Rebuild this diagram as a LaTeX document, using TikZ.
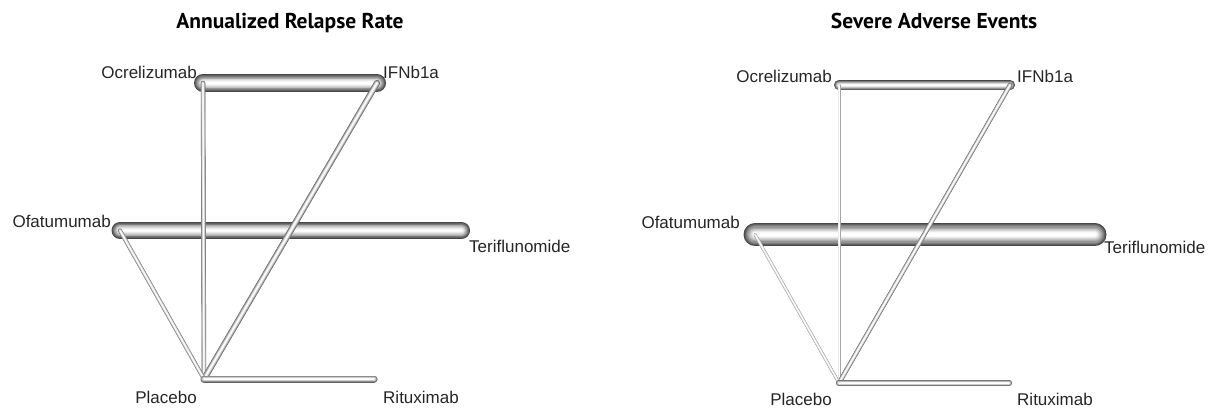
\documentclass[tikz,border=0pt]{standalone}
\usepackage{fontspec}
\setmainfont{Liberation Sans}
\newfontfamily\ttlfont{PT Sans}
\usetikzlibrary{positioning}

% shaded tube edge: [tone]{width}{from}{to}
\newcommand{\tube}[4][72]{%
  \foreach \f/\k [evaluate=\k as \c using \k*#1] in {1/1,0.9/0.86,0.8/0.72,0.7/0.58,0.6/0.45,0.5/0.33,0.4/0.22,0.3/0.12,0.2/0.04,0.1/0}
    \draw[line width=\f*#2, black!\c, line cap=round] (#3) -- (#4);
}

\begin{document}
\begin{tikzpicture}[
      x=1pt, y=-1pt,
      lbl/.style={font=\fontsize{17}{20}\selectfont, text=black!85, inner sep=0pt},
      ttl/.style={font=\ttlfont\bfseries\fontsize{21.5}{24}\selectfont, inner sep=0pt, anchor=base}
    ]
      \useasboundingbox[fill=white] (0,0) rectangle (1214,408);

      % Annualized Relapse Rate
      \begin{scope}
        \node[ttl] (lttl) at (290,28) {Annualized Relapse Rate};
        \coordinate (lOcr) at (203,83);
        \coordinate (lIFN) at (377,83);
        \coordinate (lOfa) at (120,230.5);
        \coordinate (lTer) at (461.5,230.5);
        \coordinate (lPla) at (204,379);
        \coordinate (lRit) at (374,379);
        \tube{18}{lOcr}{lIFN}
        \tube{17}{lOfa}{lTer}
        \tube[60]{4.5}{lOcr}{lPla}
        \tube[62]{6}{lIFN}{lPla}
        \tube[55]{4}{lOfa}{lPla}
        \tube[62]{7}{lPla}{lRit}
        \node[lbl, anchor=base east] (lOcrL) at ([shift={(-6,-5)}]lOcr) {Ocrelizumab};
        \node[lbl, anchor=base west] (lIFNL) at ([shift={(6,-5)}]lIFN) {IFNb1a};
        \node[lbl, anchor=base east] (lOfaL) at ([shift={(-9,-3.5)}]lOfa) {Ofatumumab};
        \node[lbl, anchor=base west] (lTerL) at ([shift={(7.5,21.5)}]lTer) {Teriflunomide};
        \node[lbl, anchor=base east] (lPlaL) at ([shift={(-7,24)}]lPla) {Placebo};
        \node[lbl, anchor=base west] (lRitL) at ([shift={(9,24)}]lRit) {Rituximab};
      \end{scope}

      % Severe Adverse Events
      \begin{scope}
        \node[ttl] (rttl) at (934,28) {Severe Adverse Events};
        \coordinate (rOcr) at (839,85);
        \coordinate (rIFN) at (1010,85);
        \coordinate (rOfa) at (755,234.5);
        \coordinate (rTer) at (1095,234.5);
        \coordinate (rPla) at (839,383);
        \coordinate (rRit) at (1009,383);
        \tube{10}{rOcr}{rIFN}
        \tube{23}{rOfa}{rTer}
        \tube[35]{3}{rOcr}{rPla}
        \tube[60]{4.5}{rIFN}{rPla}
        \tube[40]{3}{rOfa}{rPla}
        \tube[62]{6}{rPla}{rRit}
        \node[lbl, anchor=base east] (rOcrL) at ([shift={(-7,-3)}]rOcr) {Ocrelizumab};
        \node[lbl, anchor=base west] (rIFNL) at ([shift={(7,-3)}]rIFN) {IFNb1a};
        \node[lbl, anchor=base east] (rOfaL) at ([shift={(-15,-6.5)}]rOfa) {Ofatumumab};
        \node[lbl, anchor=base west] (rTerL) at ([shift={(9,18.5)}]rTer) {Teriflunomide};
        \node[lbl, anchor=base east] (rPlaL) at ([shift={(-7,22)}]rPla) {Placebo};
        \node[lbl, anchor=base west] (rRitL) at ([shift={(8,22)}]rRit) {Rituximab};
      \end{scope}
    \end{tikzpicture}
\end{document}
